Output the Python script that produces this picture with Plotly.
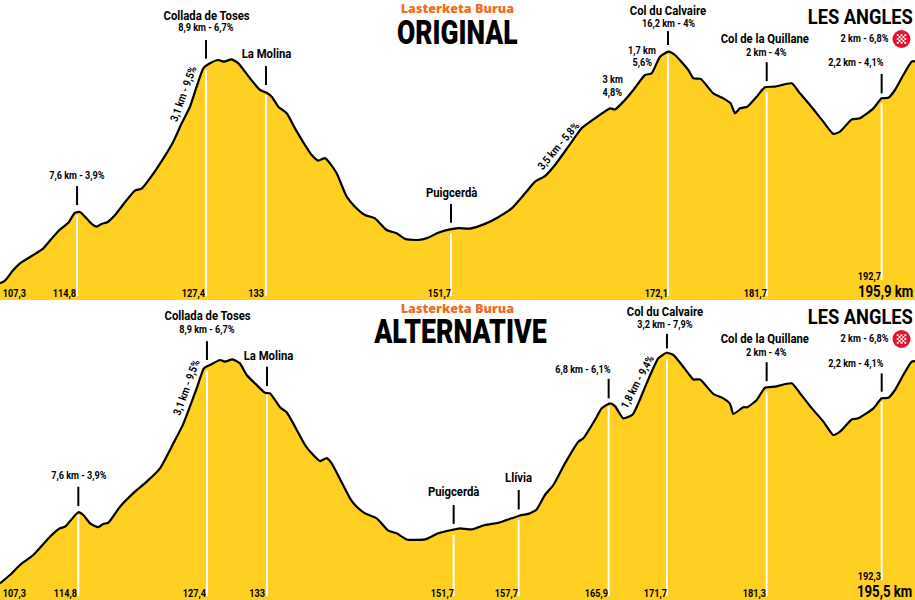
import json
import plotly.graph_objects as go

# ---- profile data: distance (km), elevation (m)
orig_km = [107.30,107.78,108.59,109.24,110.53,111.50,112.46,113.11,113.92,114.56,115.05,115.53,116.18,116.66,117.14,117.69,118.44,119.57,120.37,121.02,121.82,123.12,124.08,124.89,125.70,126.34,126.99,127.63,128.44,128.99,129.73,130.38,131.51,132.48,133.12,133.61,134.25,135.06,135.87,136.83,
137.48,138.12,138.77,139.25,139.90,140.87,141.67,142.64,143.61,144.74,145.71,146.52,147.81,148.61,149.74,150.87,151.68,152.81,154.26,155.55,156.85,158.14,159.11,160.07,161.04,162.33,163.62,164.91,166.37,
166.85,167.66,168.63,169.76,170.40,171.21,172.02,172.66,173.95,174.44,175.15,176.37,177.34,178.05,178.47,178.95,179.66,180.57,181.37,182.34,183.96,184.76,185.73,187.02,187.99,188.64,189.77,190.57,191.87,192.67,193.32,193.96,194.77,195.58,195.90]
orig_ele = [980,990,1028,1052,1082,1106,1148,1174,1198,1234,1237,1220,1194,1184,1194,1200,1226,1280,1314,1321,1358,1430,1490,1556,1616,1688,1754,1772,1784,1778,1786,1772,1718,1676,1666,1652,1616,1592,1538,1478,
1442,1422,1431,1412,1376,1292,1256,1226,1214,1172,1160,1140,1136,1142,1162,1174,1179,1177,1194,1218,1250,1304,1346,1366,1406,1472,1538,1574,1610,
1606,1634,1676,1730,1736,1796,1814,1802,1748,1718,1716,1664,1646,1628,1592,1610,1616,1652,1686,1688,1700,1664,1622,1562,1518,1526,1570,1574,1610,1646,1648,1676,1730,1778,1780]

alt_km = [107.30,108.26,109.23,110.51,112.12,113.08,113.57,114.85,115.33,115.98,116.78,117.26,117.74,118.87,120.31,121.44,122.72,124.01,124.97,126.26,126.96,127.54,128.51,128.99,129.70,130.43,131.08,132.04,132.84,133.33,134.29,134.93,135.74,136.70,
137.34,138.15,138.79,139.27,141.04,141.52,142.48,143.61,144.73,145.54,146.50,148.27,149.55,150.84,151.64,152.77,154.05,155.34,156.62,157.59,158.23,159.03,159.83,160.64,161.76,163.05,163.53,164.65,165.30,166.10,
166.58,167.38,168.29,168.83,169.63,170.76,171.56,172.21,173.65,174.13,174.78,176.06,177.02,177.67,177.99,178.95,179.34,180.24,181.04,182.01,183.61,184.42,185.38,186.67,187.63,188.27,189.40,190.04,191.49,192.29,192.93,193.57,194.37,195.18,195.50]
alt_ele = [980,1010,1046,1082,1148,1178,1184,1236,1226,1196,1182,1194,1198,1256,1310,1346,1394,1484,1554,1682,1754,1766,1784,1778,1786,1772,1730,1694,1666,1664,1614,1596,1544,1478,
1448,1420,1431,1412,1286,1262,1232,1214,1170,1160,1138,1138,1160,1172,1178,1174,1190,1198,1214,1226,1230,1246,1298,1334,1412,1490,1502,1568,1610,1628,
1618,1574,1588,1628,1700,1790,1810,1802,1736,1714,1714,1662,1646,1626,1590,1614,1614,1640,1684,1688,1700,1664,1618,1562,1514,1526,1570,1574,1610,1646,1648,1676,1730,1778,1780]

# ---- markers on the profile
orig_mark_km = [114.76,127.25,133.06,150.97,171.98,181.54,192.67]
orig_white_top = [1226,1748,1658,1160,1802,1670,1628]
orig_white_bot = [934,934,934,934,934,934,992]
orig_tick_low = [1262,1789,1694,1198,1838,1708,1664]
orig_tick_high = [1330,1856,1762,1266,1888,1776,1734]

alt_mark_km = [114.85,127.25,133.04,151.03,157.30,165.97,171.59,181.20,192.29]
alt_white_top = [1226,1746,1658,1154,1208,1616,1786,1670,1634]
alt_white_bot = [934,934,934,934,934,934,934,934,992]
alt_tick_low = [1258,1784,1690,1194,1246,1646,1826,1708,1670]
alt_tick_high = [1328,1852,1760,1262,1316,1716,1878,1776,1736]

YELLOW = "#FFD022"
FONT = "Roboto"
W, H = 915, 600

fig = go.Figure()

def panel(km, ele, mk, wt, wb, tl, th, xa, ya):
    fig.add_trace(go.Scatter(x=km, y=ele, mode="lines", fill="tozeroy", fillcolor=YELLOW,
                             line=dict(color="black", width=2.2, shape="spline", smoothing=0.5), xaxis=xa, yaxis=ya,
                             hoverinfo="skip", showlegend=False))
    for m, a, b, c, d in zip(mk, wt, wb, tl, th):
        fig.add_trace(go.Scatter(x=[m, m], y=[b, a], mode="lines", line=dict(color="white", width=2),
                                 xaxis=xa, yaxis=ya, hoverinfo="skip", showlegend=False))
        fig.add_trace(go.Scatter(x=[m, m], y=[c, d], mode="lines", line=dict(color="black", width=2),
                                 xaxis=xa, yaxis=ya, hoverinfo="skip", showlegend=False))

panel(orig_km, orig_ele, orig_mark_km, orig_white_top, orig_white_bot, orig_tick_low, orig_tick_high, "x", "y")
panel(alt_km, alt_ele, alt_mark_km, alt_white_top, alt_white_bot, alt_tick_low, alt_tick_high, "x2", "y2")

annots, squeeze = [], []
def lab(px, py, text, size=10.5, angle=0, color="black", font=FONT, sq=0.87, weight=700):
    annots.append(dict(xref="paper", yref="paper", x=px / W, y=1 - py / H, text=text,
                       showarrow=False, textangle=angle, xanchor="center", yanchor="middle",
                       font=dict(family=font, size=size, color=color, weight=weight)))
    squeeze.append(sq)

# top panel text
lab(206, 15, "Collada de Toses", 13)
lab(206, 28, "8,9 km - 6,7%")
lab(266, 54, "La Molina", 13)
lab(77, 175, "7,6 km - 3,9%")
lab(183, 94, "3,1 km - 9,5%", 11, -70)
lab(451, 192, "Puigcerdà", 13)
lab(558, 146, "3,5 km - 5,8%", 11, -50)
lab(612, 80, "3 km")
lab(612, 92, "4,8%")
lab(642, 51, "1,7 km")
lab(642, 63, "5,6%")
lab(668, 10, "Col du Calvaire", 13)
lab(668, 23, "16,2 km - 4%")
lab(765, 39, "Col de la Quillane", 13)
lab(766, 52, "2 km - 4%")
lab(856, 63, "2,2 km - 4,1%")
lab(860, 17, "LES ANGLES", 21, sq=0.87)
lab(864, 39, "2 km - 6,8%")
lab(14, 293, "107,3")
lab(64, 293, "114,8")
lab(193, 293, "127,4")
lab(256, 293, "133")
lab(439, 293, "151,7")
lab(656, 293, "172,1")
lab(755, 293, "181,7")
lab(869, 276, "192,7")
lab(885, 291, "195,9 km", 16.5, sq=0.8)
lab(457, 8, "Lasterketa Burua", 13, color="#F26B21", font="Open Sans", sq=0.97, weight=800)
lab(458, 32, "ORIGINAL", 33, sq=0.8, weight=900)

# bottom panel text
lab(207, 316, "Collada de Toses", 13)
lab(207, 329, "8,9 km - 6,7%")
lab(268, 355, "La Molina", 13)
lab(79, 475, "7,6 km - 3,9%")
lab(187, 388, "3,1 km - 9,5%", 11, -70)
lab(453, 492, "Puigcerdà", 13)
lab(518, 477, "Llívia", 13)
lab(583, 369, "6,8 km - 6,1%")
lab(637, 382, "1,8 km - 9,4%", 11, -62)
lab(665, 311, "Col du Calvaire", 13)
lab(665, 324, "3,2 km - 7,9%")
lab(765, 339, "Col de la Quillane", 13)
lab(766, 352, "2 km - 4%")
lab(856, 363, "2,2 km - 4,1%")
lab(860, 317, "LES ANGLES", 21, sq=0.87)
lab(864, 339, "2 km - 6,8%")
lab(14, 593, "107,3")
lab(65, 593, "114,8")
lab(194, 593, "127,4")
lab(257, 593, "133")
lab(442, 593, "151,7")
lab(506, 593, "157,7")
lab(596, 593, "165,9")
lab(655, 593, "171,7")
lab(754, 593, "181,3")
lab(869, 576, "192,3")
lab(884, 591, "195,5 km", 16.5, sq=0.8)
lab(457, 308, "Lasterketa Burua", 13, color="#F26B21", font="Open Sans", sq=0.97, weight=800)
lab(460, 331, "ALTERNATIVE", 33, sq=0.81, weight=900)

# finish-line badge
shapes = []
for cy in (39, 339):
    cx = 901.5
    shapes.append(dict(type="circle", xref="paper", yref="paper", x0=(cx - 9) / W, x1=(cx + 9) / W,
                       y0=1 - (cy + 9) / H, y1=1 - (cy - 9) / H, fillcolor="#E8112D", line=dict(width=0)))
    for i in range(-3, 4):
        for j in range(-3, 4):
            if (i + j) % 2 == 0 and i * i + j * j <= 8:
                sx, sy = cx + i * 1.9, cy + j * 1.9
                shapes.append(dict(type="rect", xref="paper", yref="paper", x0=(sx - 0.95) / W, x1=(sx + 0.95) / W,
                                   y0=1 - (sy + 0.95) / H, y1=1 - (sy - 0.95) / H, fillcolor="white", line=dict(width=0)))

ax = dict(visible=False, fixedrange=True)
fig.update_layout(
    width=W, height=H, margin=dict(l=0, r=0, t=0, b=0), paper_bgcolor="white", plot_bgcolor="white",
    showlegend=False, annotations=annots, shapes=shapes,
    xaxis=dict(ax, range=[107.3, 195.9], domain=[0, 1], anchor="y"),
    yaxis=dict(ax, range=[920, 2000], domain=[0.5, 1], anchor="x"),
    xaxis2=dict(ax, range=[107.3, 195.5], domain=[0, 1], anchor="y2"),
    yaxis2=dict(ax, range=[920, 2000], domain=[0, 0.5], anchor="x2"),
)
# condensed lettering: no narrow face is installed, so squeeze the real text horizontally
js = """
document.body.style.margin='0';document.documentElement.style.overflow='hidden';
var SQ=%s;
function sq(){var ts=document.querySelectorAll('.annotation-text-g text');
 ts.forEach(function(t,i){if(t.dataset.sq||SQ[i]===1)return;var b=t.getBBox();var c=b.x+b.width/2;
  var old=t.getAttribute('transform')||'';
  t.setAttribute('transform',old+' translate('+c+',0) scale('+SQ[i]+',1) translate('+(-c)+',0)');t.dataset.sq='1';});}
sq();setTimeout(sq,30);setTimeout(sq,200);setTimeout(sq,600);
""" % json.dumps(squeeze)
fig.write_html("out.html", config=dict(displayModeBar=False), post_script=js)
